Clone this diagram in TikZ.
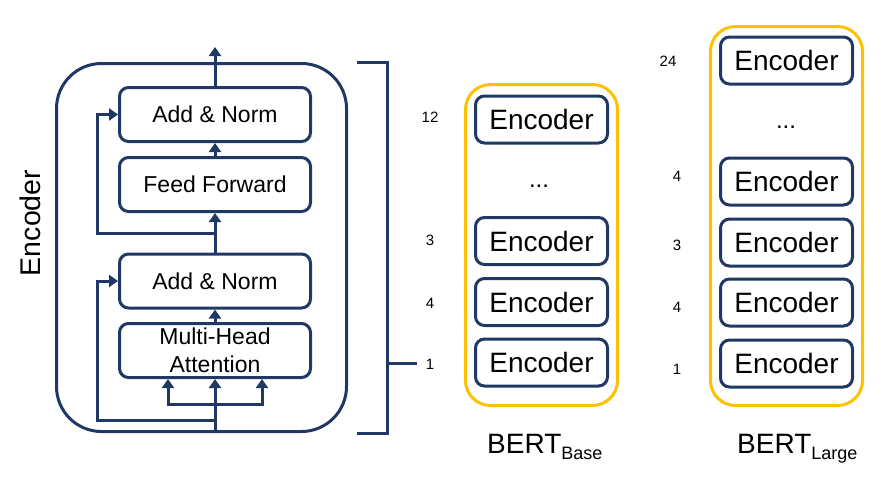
\documentclass[tikz,border=0pt]{standalone}
\usepackage{fontspec}
\setmainfont{Liberation Sans}
\usetikzlibrary{arrows.meta,calc}
\definecolor{navy}{HTML}{203864}
\definecolor{gold}{HTML}{FFC000}
\tikzset{
  ln/.style={line width=3pt,draw=navy},
  arr/.style={ln,-{Triangle[width=12pt,length=9pt]}},
  blk/.style={ln,rounded corners=9pt,minimum width=191pt,minimum height=54pt,inner sep=0pt,align=center,font=\fontsize{23}{28}\selectfont},
  enc/.style={ln,rounded corners=9pt,minimum width=132pt,minimum height=47pt,inner sep=0pt,font=\fontsize{28}{30}\selectfont},
  cont/.style={line width=3pt,draw=gold,rounded corners=25pt,inner sep=0pt},
  num/.style={font=\fontsize{15}{15}\selectfont,inner sep=0pt},
  dots/.style={font=\fontsize{24}{24}\selectfont,inner sep=0pt},
}
\begin{document}
\begin{tikzpicture}[x=1pt,y=-1pt]
\useasboundingbox (0,0) rectangle (887,490);
% outer encoder frame
\node[ln,rounded corners=45pt,minimum width=290pt,minimum height=368pt,inner sep=0pt] (frame) at (201.5,247.5) {};
\node[rotate=90,font=\fontsize{28.5}{28.5}\selectfont,inner sep=0pt] (enclabel) at (30,223) {Encoder};
% blocks
\node[blk] (an2) at (215,114.5) {Add \& Norm};
\node[blk] (ff) at (215,184.5) {Feed Forward};
\node[blk] (an1) at (215,281) {Add \& Norm};
\node[blk] (mha) at (215,350.5) {Multi-Head\\Attention};
% connectors
\coordinate (out) at (215,47);
\coordinate (in) at (215,433);
\coordinate (r1) at (215,233);
\coordinate (r1l) at (97,233);
\coordinate (r0) at (215,420);
\coordinate (r0l) at (97,420);
\coordinate (br) at (215,404);
\draw[arr] (an2.north) -- (out);
\draw[arr] (ff.north) -- (an2.south);
\draw[arr] (an1.north) -- (ff.south);
\draw[arr] (mha.north) -- (an1.south);
\draw[arr] (in) -- (mha.south);
\draw[arr] (r1) -- (r1l) |- (an2.west);
\draw[arr] (r0) -- (r0l) |- (an1.west);
\draw[arr] (br) -| ([xshift=-47pt]mha.south);
\draw[arr] (br) -| ([xshift=47pt]mha.south);
% bracket
\coordinate (bt) at (357,62);
\coordinate (bb) at (357,433);
\coordinate (tick) at (417,363);
\draw[ln] (bt) -- (387,62) -- (387,433) -- (bb);
\draw[ln] (387,363) -- (tick);
% base labels
\node[num] (n12) at (430,117) {12};
\node[num] (n3) at (430,240) {3};
\node[num] (n4) at (430,303) {4};
\node[num] (n1) at (430,364) {1};
% BERT base
\node[cont,minimum width=152pt,minimum height=321pt] (base) at (541.5,245) {};
\node[enc] (b12) at (541.5,119.5) {Encoder};
\node[dots] (bd) at (539,186) {...};
\node[enc] (b3) at (541.5,241) {Encoder};
\node[enc] (b4) at (541.5,302) {Encoder};
\node[enc] (b1) at (541.5,362.5) {Encoder};
\node[anchor=base west,inner sep=0pt] (basel) at (487,453) {\fontsize{28}{28}\selectfont BERT\raisebox{-6pt}{\fontsize{18}{18}\selectfont Base}};
% BERT large
\node[cont,minimum width=152pt,minimum height=379pt] (large) at (786.5,216) {};
\node[enc] (l24) at (786.5,60.5) {Encoder};
\node[dots] (ld) at (786,127) {...};
\node[enc] (l4) at (786.5,181.5) {Encoder};
\node[enc] (l3) at (786.5,242.5) {Encoder};
\node[enc] (l4b) at (786.5,302.5) {Encoder};
\node[enc] (l1) at (786.5,363.5) {Encoder};
\node[anchor=base west,inner sep=0pt] (largel) at (737,453) {\fontsize{28}{28}\selectfont BERT\raisebox{-6pt}{\fontsize{18}{18}\selectfont Large}};
\node[num] (m24) at (668,61) {24};
\node[num] (m4) at (677,176) {4};
\node[num] (m3) at (677,245) {3};
\node[num] (m4b) at (677,307) {4};
\node[num] (m1) at (677,369) {1};
\end{tikzpicture}
\end{document}
